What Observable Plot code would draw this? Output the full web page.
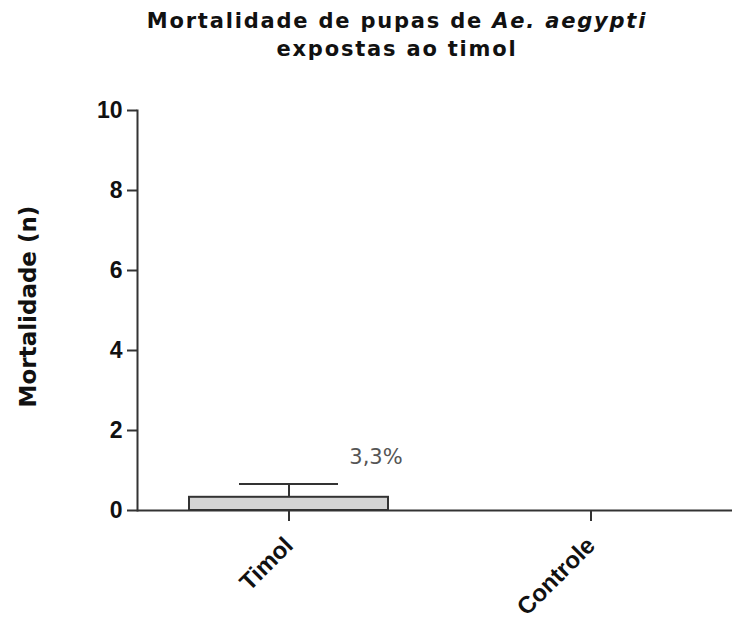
<!DOCTYPE html>
<html>
<head>
<meta charset="utf-8">
<script src="https://cdn.jsdelivr.net/npm/d3@7"></script>
<script src="https://cdn.jsdelivr.net/npm/@observablehq/plot@0.6"></script>
<style>
  html, body { margin: 0; padding: 0; background: #fff; }
  #wrap { position: relative; width: 732px; height: 627px; }
  #title { position: absolute; left: 0; top: 7px; width: 794px; text-align: center;
           font-family: "DejaVu Sans", Verdana, sans-serif; font-weight: bold; font-size: 21px;
           letter-spacing: 1.8px; line-height: 28px; color: #111; }
  #chart { position: absolute; left: 0; top: 0; }
</style>
</head>
<body>
<div id="wrap">
  <div id="chart"></div>
  <div id="title">Mortalidade de pupas de <i>Ae. aegypti</i><br>expostas ao timol</div>
</div>
<script>
const categories = ["Timol", "Controle"];
const means = [0.33, 0];
const errors = [0.33, 0];
const pctLabels = ["3,3%", ""];
const yTicks = [0, 2, 4, 6, 8, 10];

const data = categories.map((c, i) => ({cat: c, mean: means[i], err: errors[i], label: pctLabels[i]}));
const withErr = data.filter(d => d.err > 0);
const withLabel = data.filter(d => d.label);

const chart = Plot.plot({
  width: 732,
  height: 627,
  marginLeft: 137,
  marginRight: 0,
  marginTop: 110,
  marginBottom: 117,
  style: {background: "#fff", overflow: "visible"},
  x: {domain: categories, range: [137, 742], paddingInner: 0.34, paddingOuter: 0.17, label: null},
  y: {domain: [0, 10], label: null},
  marks: [
    Plot.barY(data, {x: "cat", y: "mean", fill: "#d4d4d4", stroke: "#333", strokeWidth: 2}),
    Plot.ruleX(withErr, {x: "cat", y1: "mean", y2: d => d.mean + d.err, stroke: "#333", strokeWidth: 2}),
    Plot.tickY(withErr, {x: "cat", y: d => d.mean + d.err, stroke: "#333", strokeWidth: 2, insetLeft: 50, insetRight: 50}),
    Plot.ruleY([0], {stroke: "#333", strokeWidth: 2}),
    Plot.frame({anchor: "left", stroke: "#333", strokeWidth: 2}),
    Plot.axisY({ticks: yTicks, tickSize: 10, tickPadding: 5, tickFormat: d => String(d),
      fontSize: 23, fontWeight: "bold", fontFamily: "Liberation Sans, Arial, sans-serif",
      stroke: "#333", strokeWidth: 2, color: "#111"}),
    Plot.axisX({tickSize: 11, tickRotate: -45, tickPadding: 20, fontSize: 24, fontWeight: "bold",
      fontFamily: "Liberation Sans, Arial, sans-serif", stroke: "#333", strokeWidth: 2, color: "#111"}),
    Plot.text(withLabel, {x: "cat", y: d => d.mean + d.err, text: "label", dx: 87, dy: -27,
      fontSize: 21, fill: "#555", fontFamily: "DejaVu Sans, Verdana, sans-serif"}),
    Plot.text(["Mortalidade (n)"], {frameAnchor: "left", dx: -109, dy: -4, rotate: -90, textAnchor: "middle",
      fontSize: 23, fontWeight: "bold", fontFamily: "DejaVu Sans, Verdana, sans-serif", fill: "#111"})
  ]
});
document.getElementById("chart").appendChild(chart);
</script>
</body>
</html>
